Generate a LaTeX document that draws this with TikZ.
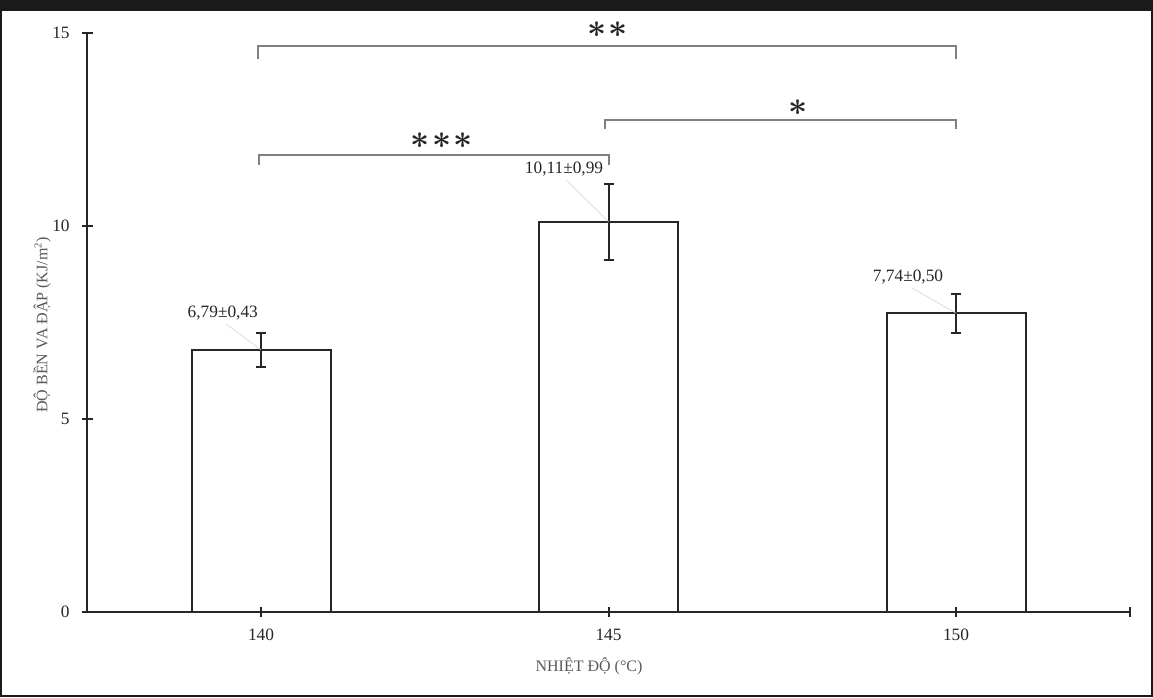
\documentclass[tikz,border=0pt]{standalone}
\usepackage{fontspec}
\setmainfont{Liberation Serif}
\usetikzlibrary{calc,positioning}
\definecolor{FrameDark}{HTML}{1A1A1A}
\definecolor{InkBlack}{HTML}{262626}
\definecolor{BracketGray}{HTML}{808080}
\definecolor{TitleGray}{HTML}{595959}
\definecolor{LeaderGray}{HTML}{D0D0D0}
\newcommand{\sigstar}{{\ast}}
\tikzset{
    bar/.style = {draw=InkBlack, fill=white, line width=1.5pt},
    axisline/.style = {draw=InkBlack, line width=1.5pt},
    errbar/.style = {draw=InkBlack, line width=1.5pt},
    bracket/.style = {draw=BracketGray, line width=1.5pt},
    leader/.style = {draw=LeaderGray, line width=0.4pt},
    ticklabel/.style = {text=InkBlack, inner sep=0pt,
        font=\fontsize{13}{15}\selectfont},
    vallabel/.style = {text=InkBlack, inner sep=1pt,
        font=\fontsize{13}{15}\selectfont},
    starlabel/.style = {text=InkBlack, inner sep=0pt,
        font=\fontsize{26}{28}\selectfont\boldmath},
    axistitle/.style = {text=TitleGray, inner sep=0pt,
        font=\fontsize{12}{14}\selectfont}
}

\begin{document}
\begin{tikzpicture}[x=0.75pt,y=0.75pt]
    \fill[color=FrameDark] (0,0) rectangle (1153,697);
    \fill[color=white] (2,2) rectangle (1151,686);
    \begin{scope}[xshift=-7101.75pt, yshift=63.75pt, x=52.125pt, y=28.95pt]
        % bars
        \draw[bar] (139,0) rectangle (141,6.79);
        \draw[bar] (144,0) rectangle (146,10.11);
        \draw[bar] (149,0) rectangle (151,7.74);
        \coordinate (top140) at (140,6.79);
        \coordinate (top145) at (145,10.11);
        \coordinate (top150) at (150,7.74);
        % error bars
        \coordinate (err140lo) at (140,6.36);
        \coordinate (err140hi) at (140,7.22);
        \coordinate (err145lo) at (145,9.12);
        \coordinate (err145hi) at (145,11.10);
        \coordinate (err150lo) at (150,7.24);
        \coordinate (err150hi) at (150,8.24);
        \draw[errbar] (err140lo) -- (err140hi);
        \draw[errbar] (err145lo) -- (err145hi);
        \draw[errbar] (err150lo) -- (err150hi);
        \draw[errbar] (err140lo) ++(-3.75pt,0) -- ++(7.5pt,0);
        \draw[errbar] (err140hi) ++(-3.75pt,0) -- ++(7.5pt,0);
        \draw[errbar] (err145lo) ++(-3.75pt,0) -- ++(7.5pt,0);
        \draw[errbar] (err145hi) ++(-3.75pt,0) -- ++(7.5pt,0);
        \draw[errbar] (err150lo) ++(-3.75pt,0) -- ++(7.5pt,0);
        \draw[errbar] (err150hi) ++(-3.75pt,0) -- ++(7.5pt,0);
        % value labels
        \node[vallabel] (val140) at (139.45,7.75) {6,79±0,43};
        \node[vallabel] (val145) at (144.36,11.48) {10,11±0,99};
        \node[vallabel] (val150) at (149.31,8.68) {7,74±0,50};
        \draw[leader,shorten <=3pt] (val140.south) -- (top140);
        \draw[leader,shorten <=3pt] (val145.south) -- (top145);
        \draw[leader,shorten <=3pt] (val150.south) -- (top150);
        % axes
        \coordinate (origin) at (137.5,0);
        \coordinate (ytop) at (137.5,15);
        \coordinate (xend) at (152.5,0);
        \draw[axisline] (origin) -- (ytop);
        \draw[axisline] (origin) -- (xend);
        \coordinate (ytick0) at (137.5,0);
        \coordinate (ytick5) at (137.5,5);
        \coordinate (ytick10) at (137.5,10);
        \coordinate (ytick15) at (137.5,15);
        \draw[axisline] (ytick0) ++(-4.1pt,0) -- ++(8.2pt,0);
        \draw[axisline] (ytick5) ++(-4.1pt,0) -- ++(8.2pt,0);
        \draw[axisline] (ytick10) ++(-4.1pt,0) -- ++(8.2pt,0);
        \draw[axisline] (ytick15) ++(-4.1pt,0) -- ++(8.2pt,0);
        \node[ticklabel,left=13pt of ytick0] (ylab0) {0};
        \node[ticklabel,left=13pt of ytick5] (ylab5) {5};
        \node[ticklabel,left=13pt of ytick10] (ylab10) {10};
        \node[ticklabel,left=13pt of ytick15] (ylab15) {15};
        \coordinate (xtick140) at (140,0);
        \coordinate (xtick145) at (145,0);
        \coordinate (xtick150) at (150,0);
        \draw[axisline] (xtick140) ++(0,-3.4pt) -- ++(0,6.8pt);
        \draw[axisline] (xtick145) ++(0,-3.4pt) -- ++(0,6.8pt);
        \draw[axisline] (xtick150) ++(0,-3.4pt) -- ++(0,6.8pt);
        \draw[axisline] (xend) ++(0,-3.4pt) -- ++(0,6.8pt);
        \node[ticklabel,below=12.5pt of xtick140] (xlab140) {140};
        \node[ticklabel,below=12.5pt of xtick145] (xlab145) {145};
        \node[ticklabel,below=12.5pt of xtick150] (xlab150) {150};
        \node[axistitle] (xtitle) at (144.72,-1.40) {NHIỆT ĐỘ (°C)};
        \node[axistitle,rotate=90] (ytitle) at (136.85,7.44) {ĐỘ BỀN VA ĐẬP (KJ/m\textsuperscript{2})};
        % significance brackets
        \coordinate (br2l) at (139.95,14.33);
        \coordinate (br2r) at (150,14.33);
        \coordinate (br1l) at (144.95,12.51);
        \coordinate (br1r) at (150,12.51);
        \coordinate (br3l) at (139.97,11.58);
        \coordinate (br3r) at (145,11.58);
        \draw[bracket] (br2l) -- ++(0,0.33) -| (br2r);
        \draw[bracket] (br1l) -- ++(0,0.24) -| (br1r);
        \draw[bracket] (br3l) -- ++(0,0.26) -| (br3r);
        \node[starlabel] (star2) at (144.99,15.09) {$\sigstar\mkern1mu\sigstar$};
        \node[starlabel] (star1) at (147.73,13.06) {$\sigstar$};
        \node[starlabel] (star3) at (142.6,12.20) {$\sigstar\mkern1mu\sigstar\mkern1mu\sigstar$};
    \end{scope}
\end{tikzpicture}
\end{document}
